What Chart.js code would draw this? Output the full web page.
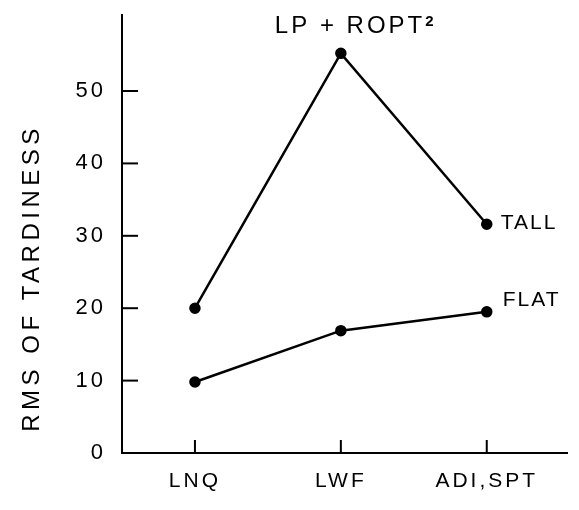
<!DOCTYPE html>
<html>
<head>
<meta charset="utf-8">
<title>RMS of tardiness</title>
<script src="https://cdn.jsdelivr.net/npm/chart.js@4/dist/chart.umd.min.js"></script>
<style>
  html, body { margin: 0; padding: 0; background: #fff; }
  #wrap { width: 579px; height: 510px; position: relative; }
</style>
</head>
<body>
<div id="wrap"><canvas id="chart"></canvas></div>
<script>
// valores
const categories = ['LNQ', 'LWF', 'ADI,SPT'];
const tallValues = [20, 55.2, 31.6];
const flatValues = [9.8, 16.9, 19.5];
const yTicks = [0, 10, 20, 30, 40, 50];
const yTitle = 'RMS OF TARDINESS';
const peakLabel = 'LP + ROPT';
const peakSup = '2';
const seriesNames = ['TALL', 'FLAT'];

const FONT = '"Liberation Sans", Arial, sans-serif';

// espaçamento de letras para os rótulos dos eixos
const spacing = {
    id: 'spacing',
    beforeDraw(chart) { chart.ctx.letterSpacing = '3px'; },
    afterDraw(chart) { chart.ctx.letterSpacing = '0px'; }
};

// marcas de escala para dentro + textos soltos
const annotations = {
    id: 'annotations',
    afterDraw(chart) {
        const ctx = chart.ctx;
        const x = chart.scales.x;
        const y = chart.scales.y;
        const area = chart.chartArea;
        ctx.save();
        ctx.strokeStyle = '#000';
        ctx.lineWidth = 2;
        yTicks.filter(v => v > 0).forEach(v => {
            const py = y.getPixelForValue(v);
            ctx.beginPath();
            ctx.moveTo(area.left, py);
            ctx.lineTo(area.left + 16, py);
            ctx.stroke();
        });
        categories.forEach((c, i) => {
            const px = x.getPixelForValue(i);
            ctx.beginPath();
            ctx.moveTo(px, area.bottom);
            ctx.lineTo(px, area.bottom - 13);
            ctx.stroke();
        });

        ctx.fillStyle = '#000';
        ctx.textBaseline = 'middle';

        // título do eixo y
        ctx.save();
        ctx.font = '24px ' + FONT;
        ctx.letterSpacing = '4.5px';
        ctx.translate(area.left - 90, area.bottom - 175);
        ctx.rotate(-Math.PI / 2);
        ctx.textAlign = 'center';
        ctx.fillText(yTitle, 0, 0);
        ctx.restore();

        // rótulo do pico
        ctx.font = '24px ' + FONT;
        ctx.letterSpacing = '3px';
        ctx.textAlign = 'left';
        const ly = y.getPixelForValue(tallValues[1]) - 27;
        const startX = x.getPixelForValue(1) - 66;
        ctx.fillText(peakLabel, startX, ly);
        const w = ctx.measureText(peakLabel).width;
        ctx.font = 'bold 15px ' + FONT;
        ctx.letterSpacing = '0px';
        ctx.fillText(peakSup, startX + w, ly - 5);

        // nomes das séries
        ctx.font = '21px ' + FONT;
        ctx.letterSpacing = '2px';
        ctx.fillText(seriesNames[0], x.getPixelForValue(2) + 14, y.getPixelForValue(tallValues[2]) - 1);
        ctx.fillText(seriesNames[1], x.getPixelForValue(2) + 16, y.getPixelForValue(flatValues[2]) - 12);
        ctx.restore();
    }
};

const lineStyle = {
    borderColor: '#000',
    backgroundColor: '#000',
    borderWidth: 2.5,
    pointRadius: 5,
    pointBorderWidth: 1.5,
    pointBorderColor: '#000',
    pointBackgroundColor: '#000',
    tension: 0
};

new Chart(document.getElementById('chart'), {
    type: 'line',
    data: {
        datasets: [
            { label: seriesNames[0], data: tallValues.map((v, i) => ({ x: i, y: v })), ...lineStyle },
            { label: seriesNames[1], data: flatValues.map((v, i) => ({ x: i, y: v })), ...lineStyle }
        ]
    },
    options: {
        responsive: true,
        maintainAspectRatio: false,
        animation: false,
        layout: { padding: { top: 15, right: 12, left: 0, bottom: 0 } },
        plugins: { legend: { display: false }, tooltip: { enabled: false } },
        scales: {
            x: {
                type: 'linear',
                min: -0.5,
                max: 2.55,
                afterBuildTicks: s => { s.ticks = categories.map((c, i) => ({ value: i })); },
                afterFit: s => { s.height = 57; s.paddingLeft = 0; s.paddingRight = 0; },
                ticks: {
                    callback: v => categories[v],
                    color: '#000',
                    padding: 16,
                    maxRotation: 0,
                    font: { family: FONT, size: 21 }
                },
                grid: { display: false, drawTicks: false },
                border: { display: true, color: '#000', width: 2 }
            },
            y: {
                min: 0,
                max: 60.5,
                afterBuildTicks: s => { s.ticks = yTicks.map(v => ({ value: v })); },
                afterFit: s => { s.width = 122; s.paddingTop = 0; s.paddingBottom = 0; },
                ticks: {
                    color: '#000',
                    padding: 16,
                    font: { family: FONT, size: 22 }
                },
                grid: { display: false, drawTicks: false },
                border: { display: true, color: '#000', width: 2 }
            }
        }
    },
    plugins: [spacing, annotations]
});
</script>
</body>
</html>
